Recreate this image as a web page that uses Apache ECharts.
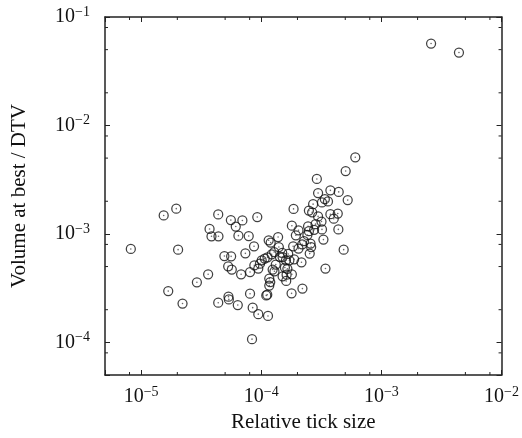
<!DOCTYPE html>
<html>
<head>
<meta charset="utf-8">
<script src="https://cdn.jsdelivr.net/npm/echarts@6/dist/echarts.min.js"></script>
<style>
html,body{margin:0;padding:0;background:#fff;}
#container1{width:522px;height:438px;}
</style>
</head>
<body>
<div id="container1"></div>
<script>
// relative tick size (x) and volume at best / DTV (y)
var tickSize=[1.54e-5,1.96e-5,8.2e-6,2.03e-5,1.68e-5,2.21e-5,2.91e-5,3.61e-5,4.38e-5,3.71e-5,
	3.85e-5,4.40e-5,5.58e-5,6.13e-5,6.96e-5,6.45e-5,7.86e-5,9.26e-5,8.7e-5,7.37e-5,
	4.93e-5,5.61e-5,5.30e-5,5.68e-5,6.79e-5,8.06e-5,8.75e-5,9.44e-5,4.38e-5,5.33e-5,
	5.37e-5,6.37e-5,8.06e-5,8.48e-5,9.44e-5,1.137e-4,8.37e-5,1.152e-4,1.197e-4,1.38e-4,
	1.40e-4,1.22e-4,1.008e-4,1.067e-4,9.75e-5,1.126e-4,1.32e-4,1.243e-4,1.287e-4,1.504e-4,
	1.675e-4,1.603e-4,1.713e-4,1.877e-4,1.572e-4,1.649e-4,1.504e-4,1.624e-4,1.797e-4,1.612e-4,
	1.165e-4,1.187e-4,1.165e-4,1.121e-4,1.10e-4,1.787e-4,1.797e-4,1.856e-4,2.04e-4,1.94e-4,
	1.842e-4,2.04e-4,2.16e-4,2.20e-4,1.493e-4,1.43e-4,1.28e-4,3.42e-4,2.27e-4,2.19e-4,
	2.57e-4,2.60e-4,2.53e-4,4.85e-4,2.42e-4,3.29e-4,2.45e-4,2.83e-4,3.17e-4,3.20e-4,
	2.75e-4,2.49e-4,4.38e-4,2.97e-4,3.76e-4,4.33e-4,4.01e-4,2.49e-4,2.65e-4,2.70e-4,
	3.20e-4,3.38e-4,3.59e-4,5.24e-4,2.97e-4,3.76e-4,4.41e-4,2.90e-4,5.04e-4,6.06e-4,
	2.59e-3,4.42e-3];
var volBest=[1.48e-3,1.71e-3,7.26e-4,7.16e-4,2.97e-4,2.28e-4,3.58e-4,4.24e-4,1.51e-3,1.11e-3,
	9.5e-4,9.5e-4,1.34e-3,1.17e-3,1.33e-3,9.64e-4,9.56e-4,1.43e-3,7.69e-4,6.62e-4,
	6.25e-4,6.21e-4,5.02e-4,4.69e-4,4.24e-4,4.45e-4,5.13e-4,4.79e-4,2.32e-4,2.64e-4,
	2.49e-4,2.21e-4,2.81e-4,2.09e-4,1.82e-4,1.75e-4,1.07e-4,8.73e-4,8.31e-4,9.36e-4,
	7.57e-4,6.48e-4,5.71e-4,5.92e-4,5.32e-4,6.08e-4,5.21e-4,4.69e-4,4.52e-4,6.12e-4,
	6.53e-4,5.71e-4,5.71e-4,5.83e-4,4.89e-4,4.76e-4,4.06e-4,4.21e-4,4.24e-4,3.68e-4,
	3.87e-4,3.60e-4,3.34e-4,2.75e-4,2.71e-4,2.83e-4,1.19e-3,1.70e-3,1.08e-3,9.71e-4,
	7.69e-4,7.32e-4,5.47e-4,3.13e-4,6.67e-4,6.12e-4,6.8e-4,4.79e-4,8.60e-4,8.02e-4,
	8.14e-4,7.57e-4,6.58e-4,7.16e-4,9.77e-4,8.86e-4,1.175e-3,1.23e-3,1.30e-3,1.10e-3,
	1.09e-3,1.06e-3,1.10e-3,1.45e-3,1.52e-3,1.54e-3,1.38e-3,1.64e-3,1.58e-3,1.88e-3,
	1.95e-3,2.09e-3,1.99e-3,2.05e-3,2.38e-3,2.52e-3,2.44e-3,3.21e-3,3.80e-3,5.09e-3,
	5.69e-2,4.70e-2];
var xRange=[5e-6,1e-2];
var yRange=[5e-5,1e-1];
var minorMant=[2,5,8];

var serif='"Liberation Serif","DejaVu Serif",serif';
var ink='#111';

function powLabel(v){
	var e=Math.log10(v);
	if(Math.abs(e-Math.round(e))>1e-6) return '';
	return '{b|10}{s|\u2212'+(-Math.round(e))+'}';
}
var labelRich={
	b:{fontFamily:serif,fontSize:20,color:ink},
	s:{fontFamily:serif,fontSize:14,color:ink,padding:[0,0,10,0]}
};

var pts=[];
for(var i=0;i<tickSize.length;++i){
	pts.push([tickSize[i],volBest[i]]);
}

function logAxis(pos,range,showLbl,margin,extra){
	var ax={
		type:'log',
		logBase:10,
		position:pos,
		min:range[0],
		max:range[1],
		axisLine:{show:true,onZero:false,lineStyle:{color:'#222',width:1.5}},
		axisTick:{show:true,inside:true,length:5,lineStyle:{color:'#222',width:1}},
		splitLine:{show:false},
		axisLabel:{show:showLbl,margin:margin,formatter:powLabel,rich:labelRich,showMinLabel:true,showMaxLabel:true}
	};
	for(var k in extra) ax[k]=extra[k];
	return ax;
}

var myChart=echarts.init(document.getElementById('container1'));
option={
	animation:false,
	backgroundColor:'#fff',
	grid:{left:105,right:18,top:17,bottom:63,containLabel:false},
	xAxis:[
		logAxis('bottom',xRange,true,10,{
			name:'Relative tick size',nameLocation:'middle',nameGap:33,
			nameTextStyle:{fontFamily:serif,fontSize:21,color:ink}
		}),
		logAxis('top',xRange,false,8,{})
	],
	yAxis:[
		logAxis('left',yRange,true,15,{
			name:'Volume at best / DTV',nameLocation:'middle',nameGap:75,
			nameTextStyle:{fontFamily:serif,fontSize:21,color:ink}
		}),
		logAxis('right',yRange,false,8,{})
	],
	series:[
		{
			type:'scatter',
			data:pts,
			symbol:'circle',
			symbolSize:9,
			itemStyle:{color:'rgba(255,255,255,0)',borderColor:'#111',borderWidth:1.25}
		},
		{
			type:'scatter',
			data:pts,
			symbol:'circle',
			symbolSize:1.6,
			itemStyle:{color:'#444'}
		}
	]
};
myChart.setOption(option);

// minor ticks at 2,5,8 per decade, placed through the axes' own scales
var x0=myChart.convertToPixel({xAxisIndex:0},xRange[0]);
var x1=myChart.convertToPixel({xAxisIndex:0},xRange[1]);
var yB=myChart.convertToPixel({yAxisIndex:0},yRange[0]);
var yT=myChart.convertToPixel({yAxisIndex:0},yRange[1]);
var minors=[];
var len=3;
for(var d=-6;d<=-1;++d){
	for(var m=0;m<minorMant.length;++m){
		var v=minorMant[m]*Math.pow(10,d);
		if(v>xRange[0]&&v<xRange[1]){
			var px=myChart.convertToPixel({xAxisIndex:0},v);
			minors.push({type:'line',shape:{x1:px,y1:yB,x2:px,y2:yB-len},style:{stroke:'#222',lineWidth:1}});
			minors.push({type:'line',shape:{x1:px,y1:yT,x2:px,y2:yT+len},style:{stroke:'#222',lineWidth:1}});
		}
		if(v>yRange[0]&&v<yRange[1]){
			var py=myChart.convertToPixel({yAxisIndex:0},v);
			minors.push({type:'line',shape:{x1:x0,y1:py,x2:x0+len,y2:py},style:{stroke:'#222',lineWidth:1}});
			minors.push({type:'line',shape:{x1:x1,y1:py,x2:x1-len,y2:py},style:{stroke:'#222',lineWidth:1}});
		}
	}
}
myChart.setOption({graphic:minors});
</script>
</body>
</html>
